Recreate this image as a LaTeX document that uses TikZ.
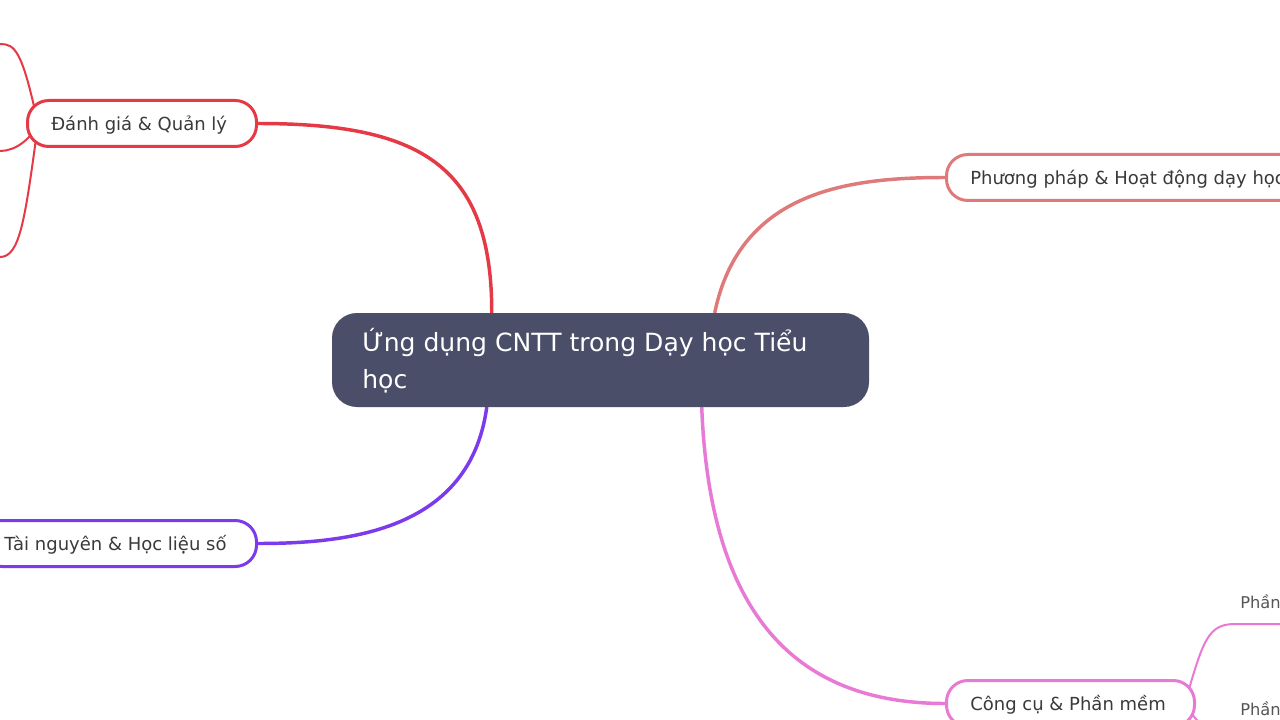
\documentclass[tikz,border=0pt]{standalone}
\usepackage{fontspec}
\setmainfont{DejaVu Sans}
\usetikzlibrary{calc,backgrounds}
\definecolor{cfill}{HTML}{4A4E69}
\definecolor{cred}{HTML}{E63946}
\definecolor{csalmon}{HTML}{E07A7A}
\definecolor{cpurple}{HTML}{7C3AED}
\definecolor{cpink}{HTML}{E879D4}
\definecolor{ctext}{HTML}{3A3A3A}
\definecolor{csub}{HTML}{555555}
\begin{document}
\begin{tikzpicture}[x=0.75pt,y=-0.75pt,
  rootbox/.style={fill=cfill,draw=none,rounded corners=18.75pt,minimum width=402.75pt,minimum height=70.5pt,inner sep=0pt},
  branchbox/.style={fill=white,draw=#1,line width=2.25pt,rounded corners=16pt,minimum height=34.5pt,inner sep=0pt},
  maintext/.style={anchor=base west,inner sep=0pt,text=ctext,font=\fontsize{13.5pt}{16pt}\selectfont},
  roottext/.style={anchor=base west,inner sep=0pt,text=white,font=\fontsize{18.8pt}{27.75pt}\selectfont},
  subtext/.style={anchor=base west,inner sep=0pt,text=csub,font=\fontsize{12.2pt}{14pt}\selectfont},
  mainlink/.style={draw=#1,line width=2.6pt,line cap=round},
  sublink/.style={draw=#1,line width=1.5pt}]
\useasboundingbox (0,0) rectangle (1280,720);
\clip (0,0) rectangle (1280,720);
% boxes
\node[rootbox] (root) at (600.5,360) {};
\node[roottext] (roott1) at (362,351.5) {Ứng dụng CNTT trong Dạy học Tiểu};
\node[roottext] (roott2) at (362,388.5) {học};

\node[branchbox=cred,minimum width=171.75pt] (danh) at (142,123.5) {};
\node[maintext] (danht) at (51,131) {Đánh giá \& Quản lý};

\node[branchbox=csalmon,minimum width=277.5pt] (pp) at (1131.5,177.5) {};
\node[maintext] (ppt) at (970,185) {Phương pháp \& Hoạt động dạy học};

\node[branchbox=cpurple,minimum width=207pt] (tn) at (118.5,543.5) {};
\node[maintext] (tnt) at (4,550) {Tài nguyên \& Học liệu số};

\node[branchbox=cpink,minimum width=186pt] (cc) at (1070.5,703.5) {};
\node[maintext] (cct) at (970,710) {Công cụ \& Phần mềm};

\node[subtext] (ph1) at (1240,608.5) {Phần};
\node[subtext] (ph2) at (1240,715.5) {Phần};

% free ends
\coordinate (d0) at (38,124);
\coordinate (d1) at (-10,44);
\coordinate (d2) at (-10,151);
\coordinate (d3) at (-10,257);
\coordinate (c0) at (1185,703);
\coordinate (c1) at (1300,624);
\coordinate (c2) at (1300,731);

\begin{scope}[on background layer]
\fill[white] (0,0) rectangle (1280,720);
% main connectors
\path[mainlink=cred] ($(root.north west)+(160,0)$) .. controls (492,165) and (420,123.5) .. (danh.east);
\path[mainlink=csalmon] ($(root.north west)+(383,0)$) .. controls (740,190) and (850,177.5) .. (pp.west);
\path[mainlink=cpurple] ($(root.south west)+(155,0)$) .. controls (470,530) and (350,543.5) .. (tn.east);
\path[mainlink=cpink] ($(root.south west)+(370,0)$) .. controls (710,620) and (800,703.5) .. (cc.west);
% sub connectors
\path[sublink=cred] (d0) .. controls (22,50) and (15,44) .. (0,44) -- (d1);
\path[sublink=cred] (d0) .. controls (30,140) and (15,151) .. (0,151) -- (d2);
\path[sublink=cred] (d0) .. controls (25,220) and (20,257) .. (0,257) -- (d3);
\path[sublink=cpink] (c0) .. controls (1203,640) and (1208,624) .. (1235,624) -- (c1);
\path[sublink=cpink] (c0) .. controls (1198,725) and (1205,731) .. (1230,731) -- (c2);
\end{scope}
\end{tikzpicture}
\end{document}
